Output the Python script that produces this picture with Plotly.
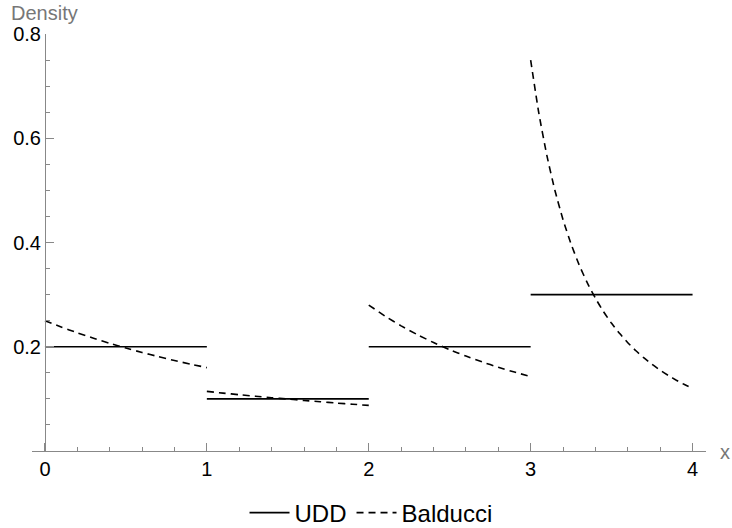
import plotly.graph_objects as go

# ---------------- data ----------------
interval_start = [0, 1, 2, 3]
udd_density = [0.2, 0.1, 0.2, 0.3]

# Balducci density, sampled along each unit interval (offset t within the interval)
t_grid = [0.0, 0.1, 0.2, 0.3, 0.4, 0.5, 0.6, 0.7, 0.8, 0.9, 1.0]
balducci_0 = [0.2500, 0.2380, 0.2268, 0.2163, 0.2066, 0.1975, 0.1890, 0.1811, 0.1736, 0.1666, 0.1600]
balducci_1 = [0.1143, 0.1111, 0.1080, 0.1051, 0.1023, 0.0996, 0.0970, 0.0945, 0.0920, 0.0897, 0.0875]
balducci_2 = [0.2800, 0.2589, 0.2401, 0.2232, 0.2081, 0.1944, 0.1821, 0.1709, 0.1607, 0.1514, 0.1429]
t_fine = [0.0, 0.05, 0.1, 0.15, 0.2, 0.25, 0.3, 0.35, 0.4, 0.45, 0.5,
          0.55, 0.6, 0.65, 0.7, 0.75, 0.8, 0.85, 0.9, 0.95, 1.0]
balducci_3 = [0.7500, 0.6490, 0.5671, 0.4998, 0.4438, 0.3967, 0.3567, 0.3225, 0.2930, 0.2673, 0.2449,
              0.2252, 0.2078, 0.1923, 0.1785, 0.1661, 0.1550, 0.1449, 0.1358, 0.1275, 0.1200]

x_ticks = [0, 1, 2, 3, 4]
y_ticks = [0.2, 0.4, 0.6, 0.8]
y_tick_text = ["0.2", "0.4", "0.6", "0.8"]

# ---------------- build traces ----------------
udd_x, udd_y = [], []
for s, d in zip(interval_start, udd_density):
    udd_x += [s, s + 1, None]
    udd_y += [d, d, None]

bal_x, bal_y = [], []
segments = [(t_grid, balducci_0), (t_grid, balducci_1), (t_grid, balducci_2), (t_fine, balducci_3)]
for s, (ts, vals) in zip(interval_start, segments):
    bal_x += [s + t for t in ts] + [None]
    bal_y += list(vals) + [None]

FONT = "Liberation Sans, Arial, sans-serif"
AXIS = "#888888"
LABEL = "#777777"

fig = go.Figure()
fig.add_trace(go.Scatter(x=udd_x, y=udd_y, mode="lines", name="UDD",
                         line=dict(color="black", width=1.6), connectgaps=False))
fig.add_trace(go.Scatter(x=bal_x, y=bal_y, mode="lines", name="Balducci",
                         line=dict(color="black", width=1.6, dash="7px,5px", shape="spline", smoothing=0.5),
                         connectgaps=False))

L, R, T, B = 32, 26, 34, 77
W, H = 732, 528
ph = H - T - B
xr = [-0.08, 4.083]
ypos = (0 - xr[0]) / (xr[1] - xr[0])

fig.update_layout(
    template="none",
    width=W, height=H,
    margin=dict(l=L, r=R, t=T, b=B, pad=0, autoexpand=False),
    paper_bgcolor="white", plot_bgcolor="white",
    font=dict(family=FONT, size=20, color="black"),
    showlegend=True,
    legend=dict(orientation="h", x=0.503, xanchor="center", y=-(513 - (H - B)) / ph, yanchor="middle",
                font=dict(size=24, color="black"), bgcolor="rgba(0,0,0,0)", borderwidth=0,
                itemwidth=40, tracegroupgap=0),
    xaxis=dict(range=xr, showgrid=False, zeroline=False, showline=True, linecolor=AXIS, linewidth=1,
               automargin=False,
               tickmode="array", tickvals=x_ticks, ticks="inside", ticklen=8, tickcolor=AXIS, tickwidth=1,
               tickfont=dict(size=20, color="black"),
               minor=dict(dtick=0.2, tick0=0, ticks="inside", ticklen=4.5, tickcolor=AXIS, tickwidth=1,
                          showgrid=False)),
    yaxis=dict(range=[0, 0.8], showgrid=False, zeroline=False, showline=True, linecolor=AXIS, linewidth=1,
               automargin=False, anchor="free", position=ypos,
               tickmode="array", tickvals=y_ticks, ticktext=y_tick_text,
               ticks="inside", ticklen=8, tickcolor=AXIS, tickwidth=1,
               tickfont=dict(size=20, color="black"),
               minor=dict(dtick=0.05, tick0=0, ticks="inside", ticklen=4.5, tickcolor=AXIS, tickwidth=1,
                          showgrid=False)),
)

fig.add_annotation(text="Density", x=0, xref="x", xanchor="center",
                   y=1, yref="paper", yanchor="middle", yshift=21, showarrow=False,
                   font=dict(size=20, color=LABEL, family=FONT))
fig.add_annotation(text="x", x=(725 - L) / (W - L - R), xref="paper", xanchor="center",
                   y=0, yref="paper", yanchor="middle", yshift=-1, showarrow=False,
                   font=dict(size=20, color=LABEL, family=FONT))

fig.write_html("out.html", config={"displayModeBar": False},
               post_script="document.body.style.margin='0';document.body.style.overflow='hidden';")
